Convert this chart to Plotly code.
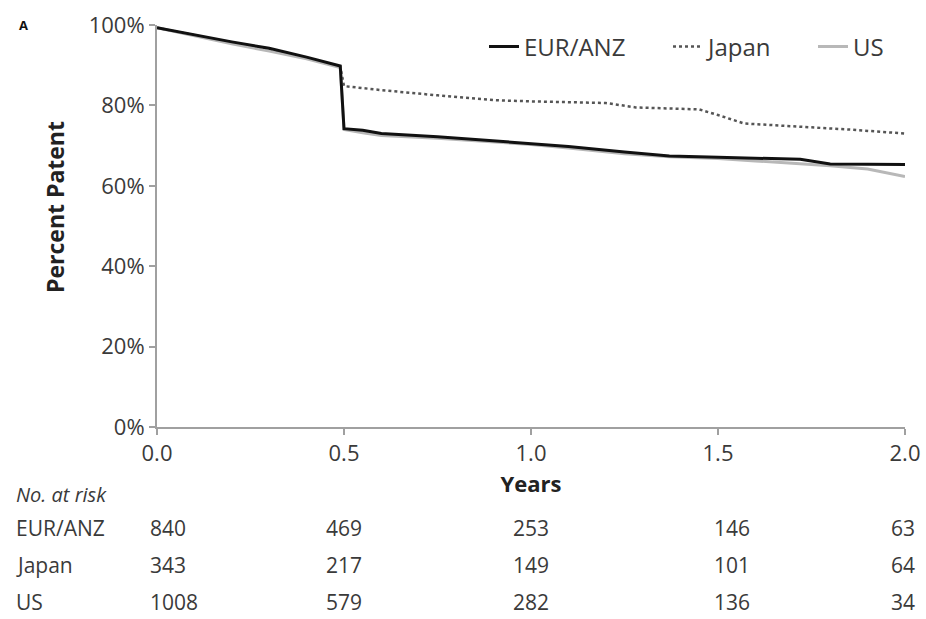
import plotly.graph_objects as go

# ---- data ----
eur_t = [0, 0.1, 0.2, 0.3, 0.4, 0.49, 0.5, 0.55, 0.6, 0.75, 0.9, 1.0, 1.1, 1.25, 1.37, 1.5, 1.6, 1.72, 1.8, 1.9, 2.0]
eur_s = [99.3, 97.5, 95.8, 94.2, 92.0, 89.8, 74.2, 73.8, 73.0, 72.2, 71.2, 70.6, 69.8, 68.4, 67.4, 67.1, 66.9, 66.6, 65.4, 65.3, 65.3]

us_t = [0, 0.1, 0.2, 0.3, 0.4, 0.49, 0.5, 0.55, 0.6, 0.75, 0.9, 1.0, 1.1, 1.25, 1.37, 1.5, 1.6, 1.72, 1.8, 1.9, 2.0]
us_s = [99.3, 97.3, 95.3, 93.5, 91.6, 89.4, 74.0, 73.2, 72.5, 71.8, 71.0, 70.3, 69.4, 68.0, 67.2, 66.8, 66.2, 65.5, 65.0, 64.2, 62.3]

japan_t = [0, 0.1, 0.2, 0.3, 0.4, 0.49, 0.5, 0.55, 0.6, 0.75, 0.9, 1.0, 1.2, 1.28, 1.45, 1.5, 1.57, 1.7, 1.85, 2.0]
japan_s = [99.3, 97.5, 95.6, 94.0, 91.8, 89.7, 84.8, 84.3, 83.8, 82.5, 81.3, 81.0, 80.6, 79.5, 79.0, 77.6, 75.5, 74.8, 74.0, 73.0]

risk_times = [0.0, 0.5, 1.0, 1.5, 2.0]
risk_groups = ["EUR/ANZ", "Japan", "US"]
risk_eur = [840, 469, 253, 146, 63]
risk_japan = [343, 217, 149, 101, 64]
risk_us = [1008, 579, 282, 136, 34]

y_ticks = [0, 20, 40, 60, 80, 100]

FONT = "Open Sans"
TXT = "#3a3a3a"
AX = "#a0a0a0"

W, H = 926, 619
L, R, T, B = 157, 21, 25, 192
ph = H - T - B
pw = W - L - R

def py(pix):
    return (H - B - pix) / ph

def px(pix):
    return (pix - L) / pw

fig = go.Figure()
fig.add_trace(go.Scatter(x=japan_t, y=japan_s, mode="lines", name="Japan", legend="legend2",
                         line=dict(color="#555555", width=2.5, dash="dot")))
fig.add_trace(go.Scatter(x=us_t, y=us_s, mode="lines", name="US", legend="legend3",
                         line=dict(color="#b8b8b8", width=3)))
fig.add_trace(go.Scatter(x=eur_t, y=eur_s, mode="lines", name="EUR/ANZ", legend="legend",
                         line=dict(color="#111111", width=3)))

ann = []
ann.append(dict(text="<b>A</b>", x=px(17), y=py(25), xref="paper", yref="paper", showarrow=False,
                xanchor="left", yanchor="middle", font=dict(size=13, color="#111", family=FONT)))
ann.append(dict(text="<b>Percent Patent</b>", x=px(55), y=py(207), xref="paper", yref="paper",
                showarrow=False, textangle=-90, xanchor="center", yanchor="middle",
                font=dict(size=23, color="#222", family=FONT)))
ann.append(dict(text="<i>No. at risk</i>", x=px(14), y=py(495), xref="paper", yref="paper",
                showarrow=False, xanchor="left", yanchor="middle", font=dict(size=20, color=TXT, family=FONT)))
row_y = [528, 565, 602]
rows = [risk_eur, risk_japan, risk_us]
anchors = ["left", "left", "center", "left", "center"]
shifts = [-9, -20, 0, -6, -2]
for g, yy, vals in zip(risk_groups, row_y, rows):
    ann.append(dict(text=g, x=px(14), y=py(yy), xref="paper", yref="paper", showarrow=False,
                    xanchor="left", yanchor="middle", font=dict(size=21, color=TXT, family=FONT)))
    for t, v, a, s in zip(risk_times, vals, anchors, shifts):
        ann.append(dict(text=str(v), x=t, y=py(yy), xref="x", yref="paper", showarrow=False,
                        xanchor=a, xshift=s, yanchor="middle", font=dict(size=21, color=TXT, family=FONT)))

leg_common = dict(orientation="h", y=py(47), xanchor="left", yanchor="middle",
                  font=dict(size=24, color=TXT, family=FONT), bgcolor="rgba(0,0,0,0)", itemwidth=30)

fig.update_layout(
    width=W, height=H, margin=dict(l=L, r=R, t=T, b=B),
    paper_bgcolor="white", plot_bgcolor="white",
    font=dict(family=FONT, color=TXT, size=18),
    showlegend=True,
    legend=dict(x=px(484), **leg_common),
    legend2=dict(x=px(668), **leg_common),
    legend3=dict(x=px(813), **leg_common),
    xaxis=dict(range=[0, 2], tickvals=risk_times, ticktext=[f"{v:.1f}" for v in risk_times],
               showgrid=False, zeroline=False, showline=True, linecolor=AX, linewidth=2,
               ticks="outside", ticklen=6, tickcolor=AX, tickwidth=1.5, automargin=False,
               tickfont=dict(size=22, color=TXT, family=FONT),
               title=dict(text="<b>Years</b>", standoff=10, font=dict(size=22, color="#222", family=FONT))),
    yaxis=dict(range=[0, 100], tickvals=y_ticks, ticktext=[f"{v}%" for v in y_ticks],
               showgrid=False, zeroline=False, showline=True, linecolor=AX, linewidth=2,
               ticks="outside", ticklen=6, tickcolor=AX, tickwidth=1.5, automargin=False,
               tickfont=dict(size=22, color=TXT, family=FONT)),
    annotations=ann,
)

fig.write_html("out.html")
